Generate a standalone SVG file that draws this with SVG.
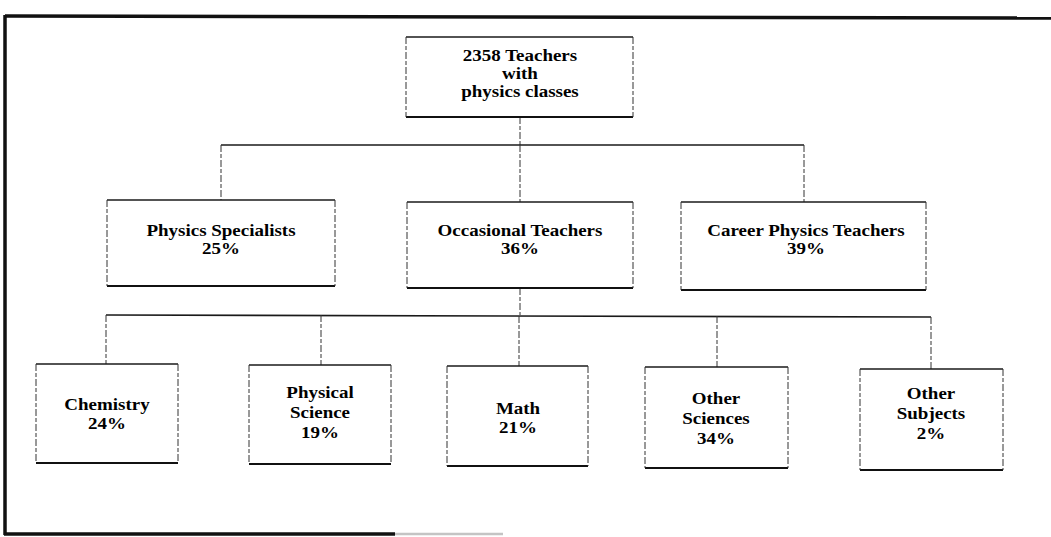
<svg xmlns="http://www.w3.org/2000/svg" width="1051" height="537" viewBox="0 0 1051 537">
  <style>
    .bg { fill: #ffffff; }
    .frame { stroke: #111111; stroke-width: 3.5; fill: none; }
    .frame-faint { stroke: #c4c4c4; stroke-width: 2.5; fill: none; }
    .edge-top { stroke: #1a1a1a; stroke-width: 1.6; fill: none; }
    .edge-bottom { stroke: #111111; stroke-width: 2; fill: none; }
    .edge-v { stroke: #333333; stroke-width: 1; fill: none; stroke-dasharray: 7 2 4 2; }
    .link-h { stroke: #1a1a1a; stroke-width: 1.6; fill: none; }
    .link-v { stroke: #333333; stroke-width: 1; fill: none; stroke-dasharray: 7 2 4 2; }
    .label { font-family: "Liberation Serif", "Times New Roman", serif; font-weight: bold; font-size: 16.5px; fill: #000000; text-anchor: middle; }
  </style>

  <rect class="bg" x="0" y="0" width="1051" height="537"/>

  <!-- outer frame: top and left edges full, bottom edge partly faded -->
  <g id="frame">
    <line class="frame" x1="5" y1="16" x2="1051" y2="18"/>
    <line class="frame" x1="5" y1="15" x2="5" y2="535"/>
    <line class="frame" x1="4" y1="534" x2="395" y2="534"/>
    <line class="frame-faint" x1="395" y1="534" x2="503" y2="534"/>
  </g>

  <!-- connectors -->
  <g id="connectors">
    <!-- root to second level -->
    <line class="link-v" x1="520" y1="117" x2="520" y2="145"/>
    <line class="link-h" x1="221" y1="145" x2="804" y2="145"/>
    <line class="link-v" x1="221" y1="145" x2="221" y2="200"/>
    <line class="link-v" x1="520" y1="145" x2="520" y2="202"/>
    <line class="link-v" x1="804" y1="145" x2="804" y2="202"/>
    <!-- occasional teachers to subjects -->
    <line class="link-v" x1="520" y1="288" x2="520" y2="315"/>
    <line class="link-h" x1="106" y1="315" x2="931" y2="317"/>
    <line class="link-v" x1="106" y1="315" x2="106" y2="364"/>
    <line class="link-v" x1="321" y1="315" x2="321" y2="365"/>
    <line class="link-v" x1="519" y1="316" x2="519" y2="366"/>
    <line class="link-v" x1="717" y1="316" x2="717" y2="367"/>
    <line class="link-v" x1="931" y1="317" x2="931" y2="369"/>
  </g>

  <!-- root -->
  <g id="root">
    <path class="edge-top" d="M406,37 H633"/>
    <path class="edge-bottom" d="M406,117 H633"/>
    <path class="edge-v" d="M406,37 V117 M633,37 V117"/>
    <text class="label" transform="matrix(1.15 0 0 1 520 0)" x="0" y="61">2358 Teachers</text>
    <text class="label" transform="matrix(1.15 0 0 1 520 0)" x="0" y="79">with</text>
    <text class="label" transform="matrix(1.15 0 0 1 520 0)" x="0" y="97">physics classes</text>
  </g>

  <!-- second level -->
  <g id="physics-specialists">
    <path class="edge-top" d="M107,200 H335"/>
    <path class="edge-bottom" d="M107,286 H335"/>
    <path class="edge-v" d="M107,200 V286 M335,200 V286"/>
    <text class="label" transform="matrix(1.15 0 0 1 221 0)" x="0" y="236">Physics Specialists</text>
    <text class="label" transform="matrix(1.15 0 0 1 221 0)" x="0" y="254">25%</text>
  </g>

  <g id="occasional-teachers">
    <path class="edge-top" d="M407,202 H633"/>
    <path class="edge-bottom" d="M407,288 H633"/>
    <path class="edge-v" d="M407,202 V288 M633,202 V288"/>
    <text class="label" transform="matrix(1.15 0 0 1 520 0)" x="0" y="236">Occasional Teachers</text>
    <text class="label" transform="matrix(1.15 0 0 1 520 0)" x="0" y="254">36%</text>
  </g>

  <g id="career-physics-teachers">
    <path class="edge-top" d="M681,202 H926"/>
    <path class="edge-bottom" d="M681,290 H926"/>
    <path class="edge-v" d="M681,202 V290 M926,202 V290"/>
    <text class="label" transform="matrix(1.15 0 0 1 806 0)" x="0" y="236">Career Physics Teachers</text>
    <text class="label" transform="matrix(1.15 0 0 1 806 0)" x="0" y="254">39%</text>
  </g>

  <!-- third level -->
  <g id="chemistry">
    <path class="edge-top" d="M36,364 H178"/>
    <path class="edge-bottom" d="M36,463 H178"/>
    <path class="edge-v" d="M36,364 V463 M178,364 V463"/>
    <text class="label" transform="matrix(1.15 0 0 1 107 0)" x="0" y="410">Chemistry</text>
    <text class="label" transform="matrix(1.15 0 0 1 107 0)" x="0" y="429">24%</text>
  </g>

  <g id="physical-science">
    <path class="edge-top" d="M249,365 H391"/>
    <path class="edge-bottom" d="M249,464 H391"/>
    <path class="edge-v" d="M249,365 V464 M391,365 V464"/>
    <text class="label" transform="matrix(1.15 0 0 1 320 0)" x="0" y="398">Physical</text>
    <text class="label" transform="matrix(1.15 0 0 1 320 0)" x="0" y="418">Science</text>
    <text class="label" transform="matrix(1.15 0 0 1 320 0)" x="0" y="438">19%</text>
  </g>

  <g id="math">
    <path class="edge-top" d="M447,366 H588"/>
    <path class="edge-bottom" d="M447,466 H588"/>
    <path class="edge-v" d="M447,366 V466 M588,366 V466"/>
    <text class="label" transform="matrix(1.15 0 0 1 518 0)" x="0" y="414">Math</text>
    <text class="label" transform="matrix(1.15 0 0 1 518 0)" x="0" y="433">21%</text>
  </g>

  <g id="other-sciences">
    <path class="edge-top" d="M645,367 H788"/>
    <path class="edge-bottom" d="M645,468 H788"/>
    <path class="edge-v" d="M645,367 V468 M788,367 V468"/>
    <text class="label" transform="matrix(1.15 0 0 1 716 0)" x="0" y="404">Other</text>
    <text class="label" transform="matrix(1.15 0 0 1 716 0)" x="0" y="424">Sciences</text>
    <text class="label" transform="matrix(1.15 0 0 1 716 0)" x="0" y="444">34%</text>
  </g>

  <g id="other-subjects">
    <path class="edge-top" d="M860,369 H1003"/>
    <path class="edge-bottom" d="M860,470 H1003"/>
    <path class="edge-v" d="M860,369 V470 M1003,369 V470"/>
    <text class="label" transform="matrix(1.15 0 0 1 931 0)" x="0" y="399">Other</text>
    <text class="label" transform="matrix(1.15 0 0 1 931 0)" x="0" y="419">Subjects</text>
    <text class="label" transform="matrix(1.15 0 0 1 931 0)" x="0" y="439">2%</text>
  </g>
</svg>
